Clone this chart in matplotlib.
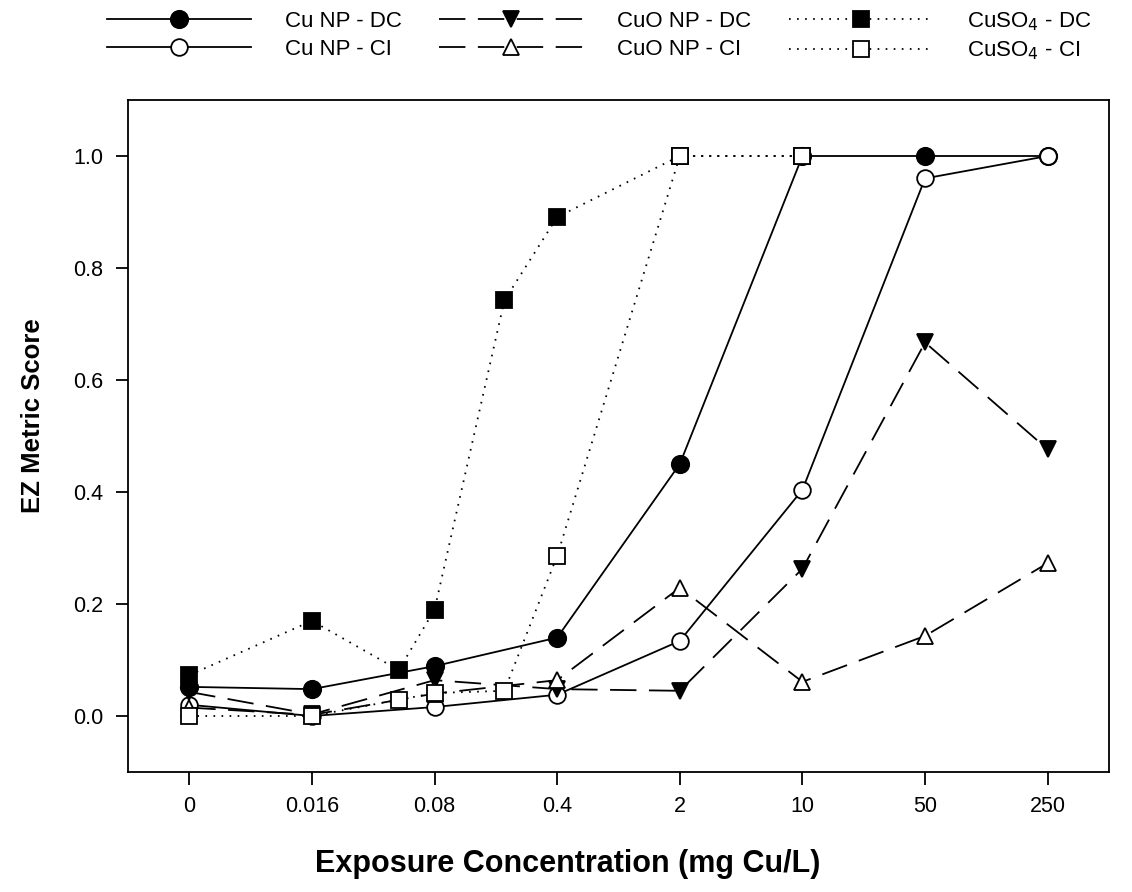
import numpy as np
import matplotlib
matplotlib.use("Agg")
import matplotlib.pyplot as plt

plt.rcParams['font.family'] = ['Liberation Sans', 'DejaVu Sans']
plt.rcParams['lines.scale_dashes'] = False

# ---- data ----
tick_conc = [0, 0.016, 0.08, 0.4, 2, 10, 50, 250]
tick_labels = ["0", "0.016", "0.08", "0.4", "2", "10", "50", "250"]

np_conc = [0, 0.016, 0.08, 0.4, 2, 10, 50, 250]
cu_np_dc = [0.052, 0.048, 0.089, 0.140, 0.450, 1.000, 1.000, 1.000]
cu_np_ci = [0.020, 0.000, 0.016, 0.038, 0.134, 0.404, 0.960, 1.000]
cuo_np_dc = [0.043, 0.003, 0.064, 0.048, 0.045, 0.263, 0.667, 0.476]
cuo_np_ci = [0.015, 0.002, 0.040, 0.064, 0.229, 0.061, 0.143, 0.273]

cuso4_conc = [0, 0.016, 0.05, 0.08, 0.2, 0.4, 2, 10]
cuso4_dc = [0.073, 0.170, 0.082, 0.190, 0.742, 0.891, 1.000, 1.000]
cuso4_ci = [0.000, 0.000, 0.029, 0.041, 0.045, 0.286, 1.000, 1.000]


def pos(c):
    c = np.asarray(c, dtype=float)
    out = np.zeros_like(c)
    nz = c > 0
    out[nz] = 1 + np.log10(c[nz] / 0.016) / np.log10(5)
    return out


fig = plt.figure(figsize=(11.32, 8.92), dpi=100)
ax = fig.add_axes([128 / 1132, 1 - 772 / 892, (1109 - 128) / 1132, (772 - 100) / 892])

lw = 1.3
dash = (19, 9)
dot = (1.2, 4.6)

styles = [
    ("Cu NP - DC", np_conc, cu_np_dc, dict(ls='-', marker='o', mfc='black', ms=12.5)),
    ("Cu NP - CI", np_conc, cu_np_ci, dict(ls='-', marker='o', mfc='white', ms=12)),
    ("CuO NP - DC", np_conc, cuo_np_dc, dict(ls=(0, dash), marker='v', mfc='black', ms=11.5)),
    ("CuO NP - CI", np_conc, cuo_np_ci, dict(ls=(0, dash), marker='^', mfc='white', ms=11.5)),
    ("CuSO$_4$ - DC", cuso4_conc, cuso4_dc, dict(ls=(0, dot), marker='s', mfc='black', ms=11)),
    ("CuSO$_4$ - CI", cuso4_conc, cuso4_ci, dict(ls=(0, dot), marker='s', mfc='white', ms=11)),
]

handles = []
for label, xc, yv, st in styles:
    h, = ax.plot(pos(xc), yv, color='black', lw=lw, mec='black', mew=1.3,
                 label=label, clip_on=False, **st)
    handles.append(h)

ax.set_xlim(-0.5, 7.5)
ax.set_ylim(-0.1, 1.1)
ax.set_xticks(pos(tick_conc))
ax.set_xticklabels(tick_labels)
ax.set_yticks([0, 0.2, 0.4, 0.6, 0.8, 1.0])
ax.set_yticklabels(["0.0", "0.2", "0.4", "0.6", "0.8", "1.0"])
ax.tick_params(direction='out', length=9, width=1.3, labelsize=15.5, pad=9)
ax.tick_params(axis='x', pad=8)
for s in ax.spines.values():
    s.set_linewidth(1.3)

ax.set_xlabel("Exposure Concentration (mg Cu/L)", fontsize=22, fontweight='bold')
ax.xaxis.set_label_coords(0.4485, -0.115)
ax.set_ylabel("EZ Metric Score", fontsize=18.5, fontweight='bold')
ax.yaxis.set_label_coords(-0.085, 0.531)

leg = fig.legend(handles=handles, ncol=3, loc='upper center', bbox_to_anchor=(0.529, 1.0),
                 frameon=False, fontsize=16, handlelength=6.5, numpoints=1,
                 columnspacing=1.7, handletextpad=1.5, labelspacing=0.32,
                 borderaxespad=0.05)

fig.savefig("out.png", dpi=100)
